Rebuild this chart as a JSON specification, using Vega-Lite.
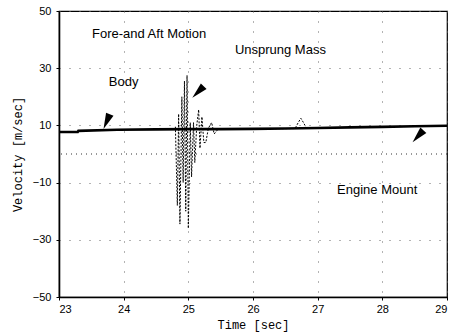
{
  "$schema": "https://vega.github.io/schema/vega-lite/v6.json",
  "width": 388,
  "height": 286,
  "autosize": {"type": "none"},
  "padding": {"left": 59, "top": 11, "right": 12, "bottom": 37},
  "background": "white",
  "config": {
    "view": {"stroke": "black", "strokeWidth": 1.2},
    "axis": {
      "labelFont": "Liberation Sans",
      "labelFontSize": 11,
      "labelColor": "black",
      "titleFont": "Liberation Mono",
      "titleFontSize": 12,
      "titleFontWeight": "normal",
      "titleColor": "black",
      "domainColor": "black",
      "domainWidth": 1.6,
      "tickColor": "black",
      "tickSize": 3,
      "grid": true,
      "gridColor": "#666666",
      "gridDash": [1, 9],
      "gridWidth": 1
    }
  },
  "datasets": {
    "baseline": [
      {"time": 23.0, "velocity": 7.7},
      {"time": 23.29, "velocity": 7.7},
      {"time": 23.3, "velocity": 8.1},
      {"time": 23.9, "velocity": 8.5},
      {"time": 24.5, "velocity": 8.6},
      {"time": 25.0, "velocity": 8.7},
      {"time": 25.5, "velocity": 8.7},
      {"time": 26.0, "velocity": 8.8},
      {"time": 26.5, "velocity": 8.9},
      {"time": 27.0, "velocity": 9.1},
      {"time": 27.5, "velocity": 9.3},
      {"time": 28.0, "velocity": 9.5},
      {"time": 28.5, "velocity": 9.7},
      {"time": 29.0, "velocity": 9.9}
    ],
    "transient": [
      {"time": 24.76, "velocity": 8.6},
      {"time": 24.8, "velocity": 9.5},
      {"time": 24.83, "velocity": -18},
      {"time": 24.85, "velocity": 14},
      {"time": 24.87, "velocity": -24.5},
      {"time": 24.9, "velocity": 20},
      {"time": 24.92, "velocity": -10},
      {"time": 24.94, "velocity": 25.5},
      {"time": 24.96, "velocity": -20},
      {"time": 24.98, "velocity": 27.5},
      {"time": 25.0, "velocity": -26},
      {"time": 25.03, "velocity": 11},
      {"time": 25.05, "velocity": -8},
      {"time": 25.08, "velocity": 11},
      {"time": 25.1, "velocity": -3},
      {"time": 25.13, "velocity": 10},
      {"time": 25.16, "velocity": 15.5},
      {"time": 25.18, "velocity": 2},
      {"time": 25.21, "velocity": 13},
      {"time": 25.24, "velocity": 4},
      {"time": 25.27, "velocity": 4},
      {"time": 25.31, "velocity": 9},
      {"time": 25.36, "velocity": 11},
      {"time": 25.4, "velocity": 7},
      {"time": 25.46, "velocity": 8.7},
      {"time": 26.65, "velocity": 8.9},
      {"time": 26.7, "velocity": 11},
      {"time": 26.74, "velocity": 12.5},
      {"time": 26.78, "velocity": 11},
      {"time": 26.83, "velocity": 8.9}
    ],
    "arrows": [
      {"time": 23.737, "velocity": 11.3, "angle": 203},
      {"time": 25.15, "velocity": 21.7, "angle": 225},
      {"time": 28.551, "velocity": 6.2, "angle": 222}
    ],
    "labels": [
      {"time": 23.51, "velocity": 42.0, "text": "Fore-and Aft Motion"},
      {"time": 25.72, "velocity": 36.4, "text": "Unsprung Mass"},
      {"time": 23.77, "velocity": 25.2, "text": "Body"},
      {"time": 27.3, "velocity": -12.6, "text": "Engine Mount"}
    ],
    "reference": [{"level": 0}]
  },
  "layer": [
    {
      "data": {"name": "reference"},
      "mark": {"type": "rule", "color": "#333333", "strokeDash": [1, 4], "strokeWidth": 1},
      "encoding": {
        "y": {"field": "level", "type": "quantitative", "scale": {"domain": [-50, 50], "nice": false}}
      }
    },
    {
      "data": {"name": "transient"},
      "mark": {"type": "line", "color": "black", "strokeWidth": 1, "strokeDash": [2, 1.5]},
      "encoding": {
        "x": {"field": "time", "type": "quantitative"},
        "y": {"field": "velocity", "type": "quantitative"}
      }
    },
    {
      "data": {"name": "baseline"},
      "mark": {"type": "line", "color": "black", "strokeWidth": 2.6},
      "encoding": {
        "x": {
          "field": "time",
          "type": "quantitative",
          "scale": {"domain": [23, 29], "nice": false},
          "axis": {"values": [23, 24, 25, 26, 27, 28, 29], "format": "d", "title": "Time [sec]", "labelPadding": 3, "titlePadding": 5}
        },
        "y": {
          "field": "velocity",
          "type": "quantitative",
          "scale": {"domain": [-50, 50], "nice": false},
          "axis": {"values": [-50, -30, -10, 10, 30, 50], "title": "Velocity [m/sec]", "labelPadding": 5, "titlePadding": 8}
        }
      }
    },
    {
      "data": {"name": "arrows"},
      "mark": {"type": "point", "shape": "M0,-1L0.5,1L-0.5,1Z", "filled": true, "color": "black", "opacity": 1, "size": 260},
      "encoding": {
        "x": {"field": "time", "type": "quantitative"},
        "y": {"field": "velocity", "type": "quantitative"},
        "angle": {"field": "angle", "type": "quantitative", "scale": null}
      }
    },
    {
      "data": {"name": "labels"},
      "mark": {"type": "text", "align": "left", "baseline": "middle", "font": "Liberation Sans", "fontSize": 13, "color": "black"},
      "encoding": {
        "x": {"field": "time", "type": "quantitative"},
        "y": {"field": "velocity", "type": "quantitative"},
        "text": {"field": "text"}
      }
    }
  ]
}
